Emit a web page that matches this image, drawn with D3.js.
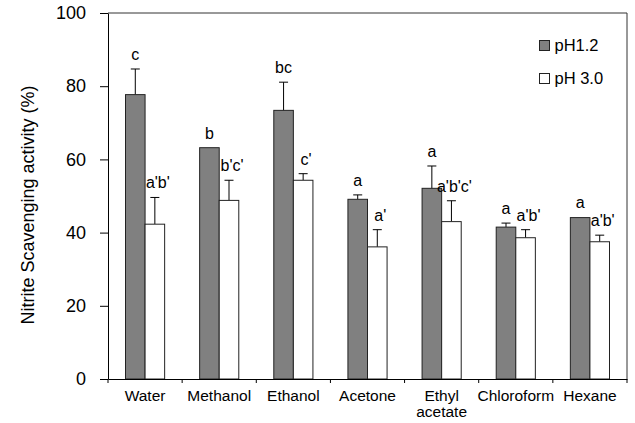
<!DOCTYPE html>
<html>
<head>
<meta charset="utf-8">
<script src="https://d3js.org/d3.v7.min.js"></script>
<style>
  body { margin: 0; background: #fff; }
  text { font-family: "Liberation Sans", Arial, sans-serif; fill: #000; }
</style>
</head>
<body>
<svg id="chart" width="635" height="423"></svg>
<script>
// data
var categories = ["Water", "Methanol", "Ethanol", "Acetone", "Ethyl acetate", "Chloroform", "Hexane"];
var series = ["pH1.2", "pH 3.0"];
var ph12 = [77.7, 63.2, 73.4, 49.1, 52.1, 41.5, 44.1];
var ph12Err = [7.0, 0.0, 7.7, 1.2, 6.1, 1.1, 0.1];
var ph30 = [42.3, 48.8, 54.3, 36.1, 43.0, 38.6, 37.5];
var ph30Err = [7.3, 5.5, 1.8, 4.7, 5.7, 2.2, 1.8];
var ph12Labels = ["c", "b", "bc", "a", "a", "a", "a"];
var ph30Labels = ["a'b'", "b'c'", "c'", "a'", "a'b'c'", "a'b'", "a'b'"];
var yTicks = [0, 20, 40, 60, 80, 100];

var svg = d3.select("#chart");
var mLeft = 108, mRight = 627, mTop = 13, mBottom = 379;

var x = d3.scaleBand().domain(categories).range([mLeft, mRight]).paddingInner(0).paddingOuter(0);
var inner = d3.scaleBand().domain(series).range([17.5, x.bandwidth() - 17.5]).padding(0);
var y = d3.scaleLinear().domain([0, 100]).range([mBottom, mTop]);

var fills = ["#808080", "#ffffff"];

// frame (top and right)
svg.append("path")
  .attr("d", "M" + mLeft + "," + mTop + "H" + mRight + "V" + mBottom)
  .attr("fill", "none").attr("stroke", "#333").attr("stroke-width", 1);

var rows = categories.map(function(c, i) {
  return [
    { cat: c, s: series[0], v: ph12[i], e: ph12Err[i], lab: ph12Labels[i], k: 0 },
    { cat: c, s: series[1], v: ph30[i], e: ph30Err[i], lab: ph30Labels[i], k: 1 }
  ];
});
var flat = [].concat.apply([], rows);
function cx(d) { return x(d.cat) + inner(d.s) + inner.bandwidth() / 2; }

var g = svg.append("g");

// error bars (upper only)
var withErr = flat.filter(function(d) { return d.e > 0.3; });
g.selectAll("line.err").data(withErr).enter()
  .append("line").attr("class", "err")
  .attr("x1", cx).attr("x2", cx)
  .attr("y1", function(d) { return y(d.v); })
  .attr("y2", function(d) { return y(d.v + d.e); })
  .attr("stroke", "#000").attr("stroke-width", 1);
g.selectAll("line.cap").data(withErr).enter()
  .append("line").attr("class", "cap")
  .attr("x1", function(d) { return cx(d) - 4.5; })
  .attr("x2", function(d) { return cx(d) + 4.5; })
  .attr("y1", function(d) { return y(d.v + d.e); })
  .attr("y2", function(d) { return y(d.v + d.e); })
  .attr("stroke", "#000").attr("stroke-width", 1);

// bars
g.selectAll("rect.bar").data(flat).enter()
  .append("rect").attr("class", "bar")
  .attr("x", function(d) { return x(d.cat) + inner(d.s); })
  .attr("y", function(d) { return y(d.v); })
  .attr("width", inner.bandwidth())
  .attr("height", function(d) { return y(0) - y(d.v); })
  .attr("fill", function(d) { return fills[d.k]; })
  .attr("stroke", "#222").attr("stroke-width", 1);

// significance letters
g.selectAll("text.lab").data(flat).enter()
  .append("text").attr("class", "lab")
  .attr("x", function(d) { return cx(d) + (d.k ? 3 : 0); })
  .attr("y", function(d) { return y(d.v + d.e) - 9; })
  .attr("text-anchor", "middle")
  .style("font-size", "16px")
  .text(function(d) { return d.lab; });

// y axis
var yAxis = svg.append("g").attr("transform", "translate(" + mLeft + ",0)")
  .call(d3.axisLeft(y).tickValues(yTicks).tickSize(8).tickSizeOuter(0).tickPadding(14));
yAxis.select(".domain").attr("stroke", "#000");
yAxis.selectAll("line").attr("stroke", "#000");
yAxis.selectAll("text").style("font-size", "18px").attr("font-family", null);

// x axis
var xAxis = svg.append("g").attr("transform", "translate(0," + mBottom + ")")
  .call(d3.axisBottom(x).tickValues([]).tickSizeOuter(0));
xAxis.select(".domain").attr("stroke", "#000");
xAxis.selectAll(".bt").data(d3.range(categories.length + 1)).enter()
  .append("line").attr("class", "bt")
  .attr("x1", function(i) { return mLeft + i * x.bandwidth(); })
  .attr("x2", function(i) { return mLeft + i * x.bandwidth(); })
  .attr("y1", 0).attr("y2", 4).attr("stroke", "#000");
var catText = xAxis.selectAll(".cl").data(categories).enter()
  .append("text").attr("class", "cl")
  .attr("text-anchor", "middle")
  .attr("x", function(d) { return x(d) + x.bandwidth() / 2; })
  .attr("y", 22)
  .style("font-size", "15.5px");
catText.each(function(d) {
  var words = d === "Ethyl acetate" ? ["Ethyl", "acetate"] : [d];
  var t = d3.select(this);
  words.forEach(function(w, j) {
    t.append("tspan").attr("x", x(d) + x.bandwidth() / 2).attr("dy", j ? 16 : 0).text(w);
  });
});

// y title
svg.append("text")
  .attr("transform", "translate(34,205) rotate(-90)")
  .attr("text-anchor", "middle")
  .style("font-size", "18px")
  .text("Nitrite Scavenging activity (%)");

// legend
var leg = svg.append("g").attr("transform", "translate(539,40)");
series.forEach(function(s, i) {
  leg.append("rect").attr("x", 0.5).attr("y", i * 33 + 0.5).attr("width", 10).attr("height", 10)
    .attr("fill", fills[i]).attr("stroke", "#222");
  leg.append("text").attr("x", 15.5).attr("y", i * 33 + 11).style("font-size", "16.5px").text(s);
});
</script>
</body>
</html>
